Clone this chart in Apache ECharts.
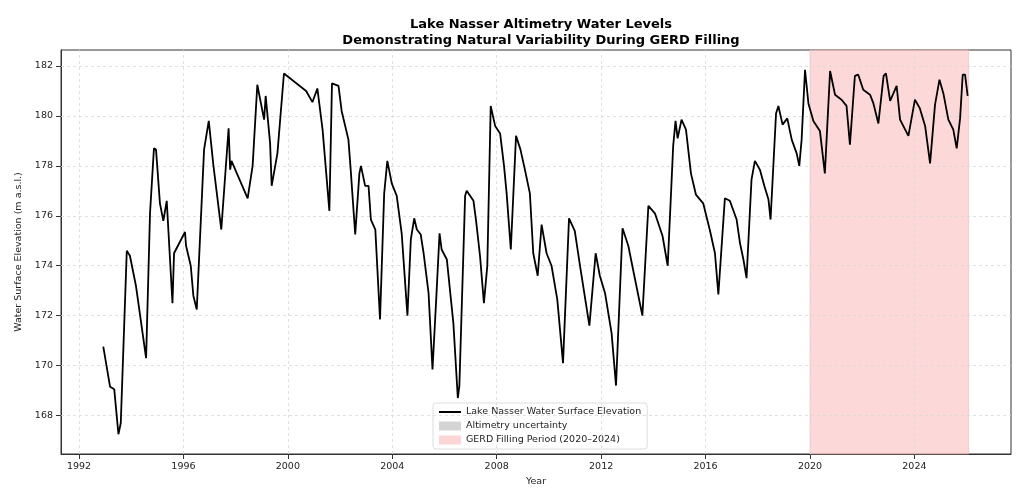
<!DOCTYPE html>
<html>
<head>
<meta charset="utf-8">
<script src="https://cdn.jsdelivr.net/npm/echarts@6/dist/echarts.min.js"></script>
</head>
<body style="margin:0">
<div id="main" style="width:1024px;height:503px;"></div>
<script>
// years (decimal) and water level (m a.s.l.)
var years = [1992.93,1993.19,1993.35,1993.51,1993.6,1993.83,1993.95,1994.18,1994.57,1994.72,1994.87,1994.95,1995.1,1995.23,1995.36,1995.58,1995.64,1996.06,1996.1,1996.28,1996.38,1996.51,1996.79,1996.97,1997.15,1997.45,1997.73,1997.79,1997.84,1998.46,1998.65,1998.83,1999.09,1999.15,1999.32,1999.38,1999.6,1999.85,2000.7,2000.94,2001.13,2001.33,2001.59,2001.69,2001.94,2002.06,2002.32,2002.41,2002.58,2002.74,2002.8,2002.96,2003.09,2003.18,2003.35,2003.53,2003.69,2003.81,2003.98,2004.17,2004.36,2004.58,2004.71,2004.84,2004.94,2005.09,2005.2,2005.39,2005.54,2005.68,2005.81,2005.89,2006.09,2006.34,2006.51,2006.57,2006.79,2006.85,2007.11,2007.21,2007.36,2007.51,2007.64,2007.77,2007.94,2008.13,2008.28,2008.38,2008.54,2008.74,2008.91,2009.08,2009.27,2009.4,2009.57,2009.72,2009.91,2010.1,2010.32,2010.54,2010.77,2010.99,2011.19,2011.55,2011.79,2011.95,2012.15,2012.4,2012.57,2012.82,2013.04,2013.3,2013.58,2013.81,2014.06,2014.35,2014.55,2014.76,2014.85,2014.93,2015.08,2015.25,2015.44,2015.63,2015.91,2016.17,2016.36,2016.49,2016.74,2016.93,2017.19,2017.32,2017.45,2017.57,2017.76,2017.89,2018.08,2018.25,2018.41,2018.49,2018.7,2018.79,2018.95,2019.13,2019.3,2019.49,2019.59,2019.68,2019.81,2019.94,2020.13,2020.38,2020.57,2020.77,2020.96,2021.21,2021.4,2021.53,2021.72,2021.85,2022.04,2022.3,2022.43,2022.62,2022.82,2022.91,2023.07,2023.32,2023.45,2023.77,2024.02,2024.21,2024.41,2024.6,2024.79,2024.96,2025.11,2025.3,2025.49,2025.62,2025.75,2025.85,2025.94,2026.04];
var levels = [170.76,169.15,169.05,167.25,167.7,174.6,174.4,173.2,170.3,176.1,178.7,178.65,176.5,175.8,176.6,172.5,174.5,175.35,174.8,174.0,172.8,172.25,178.65,179.8,178.0,175.45,179.5,177.85,178.2,176.7,178.0,181.25,179.85,180.8,178.9,177.2,178.5,181.7,181.0,180.55,181.1,179.45,176.2,181.3,181.2,180.2,179.05,177.8,175.25,177.7,178.0,177.2,177.2,175.85,175.45,171.85,176.9,178.2,177.3,176.8,175.3,172.0,175.05,175.9,175.45,175.25,174.5,172.9,169.85,172.6,175.3,174.65,174.25,171.7,168.7,169.2,176.8,177.0,176.6,175.8,174.4,172.5,174.0,180.4,179.6,179.3,178.0,176.9,174.65,179.2,178.65,177.85,176.9,174.5,173.6,175.65,174.5,174.0,172.65,170.1,175.9,175.4,174.0,171.6,174.5,173.6,172.9,171.3,169.2,175.5,174.8,173.45,172.0,176.4,176.1,175.2,174.0,178.8,179.8,179.1,179.85,179.45,177.7,176.85,176.5,175.4,174.5,172.85,176.7,176.6,175.85,174.9,174.25,173.5,177.45,178.2,177.85,177.2,176.65,175.85,180.1,180.4,179.65,179.9,179.05,178.5,178.0,179.05,181.85,180.5,179.8,179.4,177.7,181.8,180.85,180.65,180.4,178.85,181.6,181.65,181.05,180.85,180.5,179.7,181.6,181.7,180.6,181.2,179.85,179.2,180.65,180.3,179.6,178.1,180.45,181.45,180.9,179.85,179.45,178.7,179.9,181.65,181.65,180.8];
var xTicks = [1992,1996,2000,2004,2008,2012,2016,2020,2024];
var yTicks = [168,170,172,174,176,178,180,182];
var gerdPeriod = [2020, 2026.08];

var pts = years.map(function (y, i) { return [y, levels[i]]; });
var gridStyle = {color: '#d8d8d8', type: [3, 3], width: 0.8};
var chart = echarts.init(document.getElementById('main'));
chart.setOption({
    animation: false,
    title: {
        text: 'Lake Nasser Altimetry Water Levels\nDemonstrating Natural Variability During GERD Filling',
        left: 536, top: 12, textAlign: 'center',
        textStyle: {fontFamily: 'DejaVu Sans', fontSize: 13, fontWeight: 'bold', color: '#000', lineHeight: 16}
    },
    legend: {
        orient: 'vertical', left: 433, top: 403, itemGap: 4, itemWidth: 22, itemHeight: 9,
        backgroundColor: '#fff', borderColor: '#ddd', borderWidth: 1, borderRadius: 3, padding: [4, 6],
        textStyle: {fontFamily: 'DejaVu Sans', fontSize: 9.5, color: '#222'},
        data: [
            {name: 'Lake Nasser Water Surface Elevation', icon: 'path://M0,4H22V6H0Z'},
            {name: 'Altimetry uncertainty', icon: 'rect'},
            {name: 'GERD Filling Period (2020–2024)', icon: 'rect'}
        ]
    },
    grid: {left: 61, right: 13, top: 50, bottom: 49, show: true, borderColor: '#333', borderWidth: 1},
    xAxis: {
        type: 'value', min: 1991.31, max: 2027.7, name: 'Year', nameLocation: 'middle', nameGap: 21,
        nameTextStyle: {fontFamily: 'DejaVu Sans', fontSize: 9.5, color: '#222'},
        axisLine: {onZero: false, lineStyle: {color: '#333'}},
        axisTick: {customValues: xTicks, lineStyle: {color: '#333'}},
        axisLabel: {customValues: xTicks, fontFamily: 'DejaVu Sans', fontSize: 9.5, color: '#222', formatter: function (v) { return String(v); }},
        splitLine: {show: false}
    },
    yAxis: {
        type: 'value', min: 166.46, max: 182.64, name: 'Water Surface Elevation (m a.s.l.)',
        nameLocation: 'middle', nameGap: 33,
        nameTextStyle: {fontFamily: 'DejaVu Sans', fontSize: 9.5, color: '#222'},
        axisLine: {show: true, lineStyle: {color: '#333'}},
        axisTick: {show: true, customValues: yTicks, lineStyle: {color: '#333'}},
        axisLabel: {customValues: yTicks, fontFamily: 'DejaVu Sans', fontSize: 9.5, color: '#222'},
        splitLine: {show: false}
    },
    series: [
        {
            name: 'GERD Filling Period (2020–2024)', type: 'line', data: [],
            itemStyle: {color: '#fdd5d5'},
            markArea: {silent: true, itemStyle: {color: 'rgba(252,190,190,0.6)', borderColor: '#e8b0b0', borderWidth: 0.5},
                data: [[{xAxis: gerdPeriod[0]}, {xAxis: gerdPeriod[1]}]]},
            markLine: {silent: true, symbol: 'none', label: {show: false}, lineStyle: gridStyle,
                data: xTicks.map(function (t) { return {xAxis: t}; }).concat(yTicks.map(function (t) { return {yAxis: t}; }))}
        },
        {name: 'Altimetry uncertainty', type: 'line', data: [], itemStyle: {color: '#d4d4d4'}},
        {
            name: 'Lake Nasser Water Surface Elevation', type: 'line', data: pts, showSymbol: false,
            lineStyle: {color: '#000', width: 1.8}, itemStyle: {color: '#000'}, z: 5
        }
    ]
});
</script>
</body>
</html>
